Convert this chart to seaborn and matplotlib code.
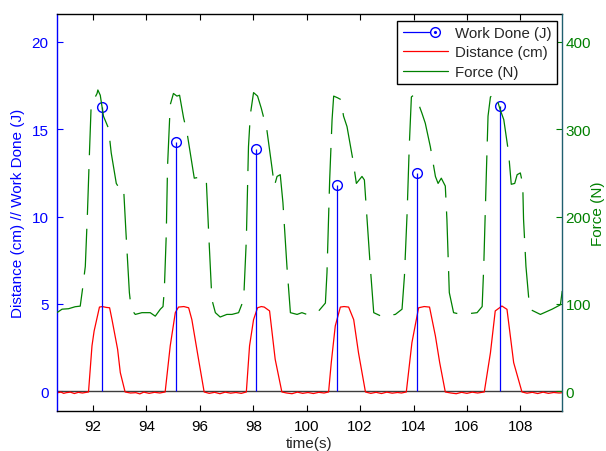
import numpy as np
import pandas as pd
import matplotlib
matplotlib.use("Agg")
import matplotlib.pyplot as plt
import seaborn as sns
from matplotlib.lines import Line2D
from matplotlib.legend_handler import HandlerBase

# ---------------------------------------------------------------
# data
# ---------------------------------------------------------------

# work done per stroke (stem plot)
work_t = [92.32, 95.11, 98.12, 101.12, 104.13, 107.23]
work_j = [16.25, 14.3, 13.85, 11.8, 12.5, 16.35]

# distance (cm)
dist_t = [90.60, 90.80, 90.90, 91.00, 91.15, 91.30, 91.45, 91.60,
          91.83, 91.96, 92.04, 92.24, 92.35, 92.50, 92.62, 92.71, 92.92, 93.02, 93.20,
          93.40, 93.60, 93.75, 93.90, 94.10, 94.30, 94.50,
          94.70, 94.89, 95.08, 95.20, 95.40, 95.58, 95.70, 95.95, 96.16,
          96.35, 96.55, 96.75, 96.95, 97.15, 97.35, 97.55,
          97.74, 97.86, 98.01, 98.16, 98.30, 98.41, 98.61, 98.82, 99.07,
          99.25, 99.45, 99.65, 99.85, 100.05, 100.25, 100.45, 100.65,
          100.82, 100.92, 101.07, 101.26, 101.40, 101.57, 101.76, 101.94, 102.20,
          102.40, 102.60, 102.80, 103.00, 103.20, 103.40, 103.55,
          103.73, 103.94, 104.19, 104.40, 104.60, 104.82, 104.98, 105.19,
          105.40, 105.60, 105.80, 106.00, 106.20, 106.40,
          106.65, 106.88, 107.06, 107.31, 107.50, 107.75, 108.06,
          108.25, 108.45, 108.65, 108.85, 109.05, 109.25, 109.45, 109.60]
dist_cm = [-0.10, -0.05, -0.12, -0.08, -0.05, -0.13, -0.06, -0.10,
           -0.04, 2.60, 3.45, 4.82, 4.85, 4.80, 4.78, 4.10, 2.40, 1.07, -0.04,
           -0.10, -0.08, -0.15, -0.05, -0.12, -0.06, -0.10,
           -0.04, 2.60, 4.50, 4.82, 4.85, 4.78, 4.10, 1.83, -0.04,
           -0.12, -0.06, -0.14, -0.05, -0.11, -0.07, -0.12,
           -0.04, 2.60, 4.10, 4.78, 4.85, 4.82, 4.60, 1.83, -0.04,
           -0.10, -0.14, -0.05, -0.12, -0.07, -0.13, -0.06, -0.10,
           -0.04, 1.64, 3.74, 4.82, 4.85, 4.82, 4.10, 2.20, -0.04,
           -0.12, -0.06, -0.13, -0.05, -0.11, -0.07, -0.10,
           -0.04, 2.78, 4.78, 4.85, 4.82, 3.16, 1.64, -0.04,
           -0.10, -0.14, -0.06, -0.12, -0.05, -0.10,
           -0.04, 2.20, 4.60, 4.88, 4.69, 1.64, -0.04,
           -0.11, -0.06, -0.13, -0.05, -0.12, -0.07, -0.10, -0.08]

# force (N)
force_t = [90.55, 90.84, 91.08, 91.33, 91.52, 91.61, 91.71, 91.79, 91.87, 91.93,
           92.15, 92.18, 92.27, 92.39, 92.58, 92.68, 92.87, 92.93, 93.14, 93.23,
           93.36, 93.43, 93.58, 93.83, 94.14, 94.33, 94.52, 94.62, 94.67, 94.74,
           94.79, 94.89, 95.01, 95.14, 95.24, 95.39, 95.52, 95.79, 96.14, 96.24,
           96.33, 96.45, 96.58, 96.76, 97.01, 97.20, 97.45, 97.64, 97.74, 97.82,
           97.89, 98.01, 98.16, 98.30, 98.51, 98.70, 98.79, 98.89, 99.01, 99.11,
           99.26, 99.39, 99.64, 99.82, 100.10, 100.45, 100.70, 100.76, 100.86, 100.95,
           101.01, 101.16, 101.28, 101.38, 101.51, 101.73, 101.86, 102.07, 102.16, 102.26,
           102.38, 102.51, 102.86, 103.10, 103.32, 103.57, 103.66, 103.76, 103.84, 103.92,
           104.00, 104.13, 104.32, 104.44, 104.63, 104.82, 104.92, 105.04, 105.19, 105.25,
           105.34, 105.50, 105.79, 106.10, 106.38, 106.57, 106.63, 106.72, 106.79, 106.88,
           107.06, 107.25, 107.38, 107.56, 107.66, 107.79, 107.88, 108.00, 108.09, 108.12,
           108.21, 108.35, 108.75, 109.19, 109.50, 109.56, 109.70]
force_n = [88, 94, 94.5, 96.8, 97.5, 118, 143, 204, 277, 328,
           341, 345, 339, 315, 301, 273, 238, 235, 235, 183,
           113, 94, 88, 90, 90, 86, 94, 97, 117, 178,
           258, 328, 341, 338, 339, 313, 296, 244, 246, 242,
           181, 105, 90, 85, 88, 88, 90, 105, 174, 280,
           317, 342, 338, 324, 299, 256, 235, 246, 248, 216,
           143, 90, 88, 90, 87, 92, 101, 136, 242, 311,
           338, 336, 334, 315, 303, 265, 238, 246, 242, 197,
           143, 90, 85, 87, 88, 94, 132, 204, 280, 337,
           339, 334, 318, 307, 280, 246, 238, 244, 235, 197,
           113, 90, 88, 89, 90, 97, 143, 242, 315, 337,
           341, 322, 311, 273, 237, 238, 248, 250, 237, 197,
           143, 94, 88, 94, 99, 113, 150]

x_ticks = [92, 94, 96, 98, 100, 102, 104, 106, 108]
left_ticks = [0, 5, 10, 15, 20]
right_ticks = [0, 100, 200, 300, 400]

BLUE = "#0000ff"
RED = "#ff0000"
GREEN = "#008000"


class StemHandler(HandlerBase):
    # line with the open circle at its right end, as in the reference legend
    def create_artists(self, legend, orig_handle, xdescent, ydescent,
                       width, height, fontsize, trans):
        y = height / 2 - ydescent
        x0, x1 = -xdescent, width * 0.72 - xdescent
        line = Line2D([x0, x1], [y, y], color=BLUE, lw=0.9)
        ring = Line2D([x1], [y], marker="o", ms=7, mfc="white", mec=BLUE, mew=1.0, ls="none")
        dot = Line2D([x1], [y], marker=".", ms=2.5, color=BLUE, ls="none")
        for a in (line, ring, dot):
            a.set_transform(trans)
        return [line, ring, dot]


sns.set_style("white")
plt.rcParams["font.family"] = ["Liberation Sans", "DejaVu Sans"]
plt.rcParams["font.size"] = 11
plt.rcParams["lines.scale_dashes"] = False

fig = plt.figure(figsize=(6.06, 4.52), dpi=100)
ax = fig.add_axes([57 / 606, 1 - 412 / 452, (562 - 57) / 606, (412 - 15) / 452])
ax2 = ax.twinx()

# left axis: distance + work done
sns.lineplot(x=dist_t, y=dist_cm, ax=ax, color=RED, lw=0.9, sort=False)
ax.axhline(0, color="#3c3c3c", lw=1.0, zorder=1)
mk, st, bl = ax.stem(work_t, work_j, linefmt="-", markerfmt="o", basefmt=" ")
plt.setp(st, color=BLUE, lw=0.9)
plt.setp(mk, color=BLUE, mfc="none", mec=BLUE, ms=7, mew=1.0)

# right axis: force
sns.lineplot(x=force_t, y=force_n, ax=ax2, color=GREEN, lw=0.9, sort=False)
ax2.lines[-1].set_dashes([33, 10])

ax.set_xlim(90.65, 109.56)
ax.set_ylim(-1.13, 21.6)
ax2.set_ylim(-22.6, 432)
ax.set_xticks(x_ticks)
ax.set_yticks(left_ticks)
ax2.set_yticks(right_ticks)

ax.tick_params(axis="x", direction="in", top=True, bottom=True, length=4,
               width=0.8, color="black", labelcolor="black", pad=6)
ax.tick_params(axis="y", direction="in", left=True, length=4, width=0.8,
               color=BLUE, labelcolor=BLUE, pad=6)
ax2.tick_params(axis="y", direction="in", right=True, length=4, width=0.8,
                color=GREEN, labelcolor=GREEN, pad=2.5)

for s in ["top", "bottom"]:
    ax.spines[s].set_color("black")
    ax.spines[s].set_linewidth(1.0)
    ax2.spines[s].set_visible(False)
ax.spines["left"].set_color(BLUE)
ax.spines["left"].set_linewidth(1.0)
ax.spines["right"].set_visible(False)
ax2.spines["left"].set_visible(False)
ax2.spines["right"].set_color("#1f5f6f")
ax2.spines["right"].set_linewidth(1.0)

ax.set_xlabel("time(s)", labelpad=2)
ax.set_ylabel("Distance (cm) // Work Done (J)", color=BLUE, labelpad=5)
ax2.set_ylabel("Force (N)", color=GREEN, labelpad=0)

handles = [
    Line2D([], [], color=BLUE),
    Line2D([], [], color=RED, lw=0.9),
    Line2D([], [], color=GREEN, lw=0.9),
]
labels = ["Work Done (J)", "Distance (cm)", "Force (N)"]
leg = ax2.legend(handles, labels, loc="upper right",
                 bbox_to_anchor=(557 / 606, 1 - 22 / 452), bbox_transform=fig.transFigure,
                 borderaxespad=0, frameon=True, fancybox=False, framealpha=1,
                 edgecolor="black", handlelength=3.0, handletextpad=0.5,
                 labelspacing=0.35, borderpad=0.35, fontsize=10.8,
                 handler_map={handles[0]: StemHandler()})
leg.get_frame().set_linewidth(1.0)

fig.savefig("out.png", dpi=100)
